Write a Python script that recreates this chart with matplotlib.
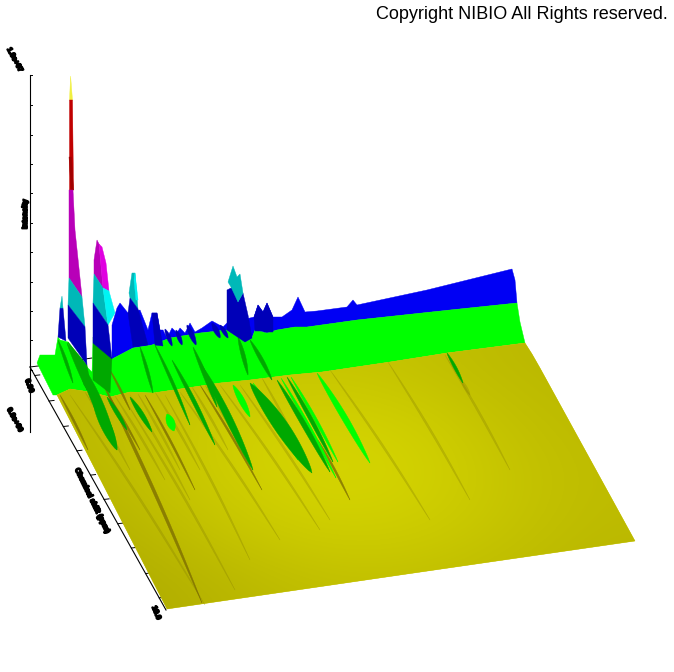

from __future__ import annotations

import matplotlib

matplotlib.use("Agg")
import matplotlib.patheffects as pe
import matplotlib.pyplot as plt
import numpy as np
from matplotlib.colors import LinearSegmentedColormap
from matplotlib.patches import Polygon

WIDTH, HEIGHT = 674, 672

BLUE = "#0000f4"
DARK_BLUE = "#0000b8"
GREEN = "#00ff00"
DARK_GREEN = "#00a800"
CYAN = "#00b8b8"
BRIGHT_CYAN = "#00f4f4"
MAGENTA = "#b800b8"
BRIGHT_MAGENTA = "#e000e0"
RED = "#c00000"
DARK_RED = "#a00000"
TIP_YELLOW = "#f0f040"
OLIVE = "#8a8400"
BROWN = "#7a6a00"

# outline of the surface levels
RIDGE_X = [112, 117, 120, 128, 140, 148, 152, 157, 160, 163, 167, 172, 177, 180, 185, 190, 195, 202, 212, 223,
           227, 250, 254, 258, 263, 267, 273, 282, 292, 298, 305, 317, 347, 353, 357, 427, 512, 515, 517]
RIDGE_Y = [325, 308, 303, 313, 310, 330, 313, 313, 330, 330, 338, 328, 333, 328, 333, 323, 332, 328, 321, 327,
           323, 318, 317, 305, 312, 303, 317, 317, 310, 297, 312, 311, 307, 300, 305, 290, 269, 280, 303]
BLUE_GREEN_X = [517, 450, 357, 307, 295, 277, 267, 255, 252, 245, 227, 200, 170, 152, 133, 112]
BLUE_GREEN_Y = [303, 310, 320, 327, 327, 330, 333, 330, 338, 342, 330, 333, 338, 345, 348, 359]
GREEN_LEFT_X = [53, 37, 40, 55, 58, 60, 68, 87, 92, 93]
GREEN_LEFT_Y = [395, 363, 355, 355, 337, 340, 342, 367, 372, 343]
GREEN_RIGHT_X = [520, 525]
GREEN_RIGHT_Y = [322, 343]
GREEN_YELLOW_X = [447, 390, 322, 290, 250, 220, 207, 180, 153, 130, 110, 90, 70, 57]
GREEN_YELLOW_Y = [353, 362, 372, 375, 380, 383, 385, 389, 393, 392, 397, 392, 389, 395]
YELLOW_X = [57, 70, 90, 110, 130, 153, 180, 207, 220, 250, 290, 322, 390, 447, 525, 532, 540, 635, 400, 167]
YELLOW_Y = [395, 389, 392, 397, 392, 393, 389, 385, 383, 380, 375, 372, 362, 353, 343, 354, 368, 541, 575, 609]

# brightness of the yellow floor, rows run top to bottom, columns left to right
FLOOR_LEVELS = [
    [186, 190, 196, 198, 194, 188, 186],
    [188, 198, 208, 210, 206, 194, 188],
    [184, 196, 208, 213, 210, 198, 190],
    [178, 188, 200, 206, 204, 196, 188],
    [172, 178, 186, 192, 192, 188, 184],
]

# level bands of the tall peaks: colour, x, y
PEAK_BANDS = [
    (DARK_GREEN, [68, 87, 92, 84, 77], [342, 365, 395, 385, 363]),
    (DARK_GREEN, [93, 112, 110, 93], [337, 358, 393, 380]),
    (DARK_BLUE, [58, 60, 63, 66], [337, 308, 308, 341]),
    (CYAN, [60, 62, 63], [308, 296, 308]),
    (TIP_YELLOW, [69.5, 70.6, 72.5], [100, 76, 100]),
    (RED, [69.5, 72.5, 73.5, 69.5], [100, 100, 190, 190]),
    (DARK_RED, [69, 71.5, 73.5, 71], [157, 157, 190, 190]),
    (MAGENTA, [69, 73, 75, 82, 69], [190, 190, 230, 297, 278]),
    (CYAN, [69, 82, 85, 68], [278, 297, 327, 305]),
    (DARK_BLUE, [68, 85, 87, 68], [305, 327, 365, 338]),
    (MAGENTA, [94, 97, 99, 103, 94], [260, 240, 244, 288, 274]),
    (BRIGHT_MAGENTA, [99, 102, 106, 109, 103], [244, 247, 263, 291, 288]),
    (CYAN, [94, 103, 108, 93], [274, 288, 325, 303]),
    (BRIGHT_CYAN, [103, 109, 115, 108], [288, 291, 313, 325]),
    (DARK_BLUE, [93, 108, 112, 93], [303, 325, 359, 343]),
    (CYAN, [129, 132, 135, 138, 130], [293, 273, 273, 309, 298]),
    (BRIGHT_CYAN, [134, 135, 138, 136], [280, 273, 300, 300]),
    (DARK_BLUE, [128, 130, 138, 148, 133], [313, 298, 309, 345, 347]),
    (DARK_BLUE, [152, 157, 160, 163, 155], [313, 313, 330, 346, 345]),
    (DARK_BLUE, [227, 233, 238, 243, 248, 252, 245, 227], [290, 287, 302, 293, 315, 338, 342, 330]),
    (CYAN, [228, 233, 237, 240, 243, 238, 231], [282, 266, 277, 274, 293, 302, 287]),
    (DARK_BLUE, [254, 258, 263, 265, 255], [317, 305, 312, 331, 331]),
    (DARK_BLUE, [263, 267, 273, 273, 264], [312, 303, 317, 332, 332]),
]

# narrow ridges running toward the viewer: x0, y0, x1, y1, width
DARK_GREEN_STREAKS = [
    (77, 358, 117, 450, 10),
    (58, 340, 73, 383, 3),
    (67, 343, 87, 390, 3),
    (93, 400, 117, 450, 10),
    (107, 397, 127, 430, 4),
    (130, 397, 152, 432, 5),
    (140, 347, 153, 393, 3),
    (155, 345, 190, 425, 3),
    (172, 360, 215, 445, 4),
    (193, 347, 217, 407, 4),
    (200, 363, 253, 470, 7),
    (238, 337, 248, 375, 4),
    (250, 340, 272, 380, 4),
    (250, 383, 312, 473, 14),
    (277, 380, 330, 472, 5),
    (287, 377, 333, 462, 4),
    (447, 353, 463, 383, 3),
]
BRIGHT_GREEN_STREAKS = [
    (233, 385, 250, 417, 6),
    (253, 383, 298, 460, 5),
    (281, 378, 336, 478, 3),
    (291, 377, 338, 462, 3),
    (317, 373, 370, 463, 6),
    (167, 414, 174, 431, 8),
]
BROWN_STREAKS = [
    (93, 363, 202, 603, 3),
    (60, 395, 88, 450, 2),
    (108, 395, 140, 450, 2),
    (145, 395, 195, 490, 2),
    (110, 370, 130, 410, 2),
    (200, 385, 262, 490, 2),
    (318, 440, 350, 500, 2),
]
FAINT_STREAKS = [
    (70, 395, 205, 605, 2),
    (125, 400, 235, 590, 2),
    (165, 395, 250, 560, 2),
    (180, 392, 280, 540, 2),
    (220, 385, 320, 530, 2),
    (240, 385, 330, 520, 2),
    (330, 370, 430, 520, 2),
    (388, 362, 470, 500, 2),
    (445, 355, 510, 470, 2),
    (461, 380, 470, 395, 3),
    (130, 395, 190, 500, 2),
    (85, 392, 130, 470, 2),
    (115, 396, 165, 480, 2),
    (138, 394, 180, 470, 2),
    (155, 392, 200, 470, 2),
    (192, 387, 228, 450, 2),
    (205, 385, 245, 455, 2),
    (262, 378, 300, 450, 2),
]
BLUE_NOTCHES = [
    (165, 329, 172, 346, 4),
    (176, 330, 182, 345, 4),
    (187, 325, 196, 345, 5),
    (212, 323, 220, 338, 5),
    (220, 325, 228, 338, 4),
]

Z_TICK_Y = [75, 105, 135, 164, 193, 223, 252, 282, 311, 340, 370]
Y_TICK_FRACTIONS = [0.035, 0.14, 0.245, 0.345, 0.445, 0.545, 0.645, 0.745, 0.85, 0.95]
AXIS_TEXTS = [
    ("1.0e+07", 14.5, 60, -62),
    ("Intensity", 25.5, 214, 90),
    ("0.0e+00", 14.5, 420, -62),
    ("0.00", 29, 386, -70),
    ("Chemical shift (ppm)", 92, 501, -64),
    ("10.0", 156, 613, -68),
]


def add_poly(ax, xs, ys, color, zorder, alpha=1.0) -> Polygon:
    patch = Polygon(np.column_stack([xs, ys]), closed=True, facecolor=color, edgecolor=color,
                    linewidth=0.3, alpha=alpha, zorder=zorder)
    ax.add_patch(patch)
    return patch


def add_streak(ax, streak, color, zorder, alpha=1.0) -> None:
    x0, y0, x1, y1, width = streak
    t = np.linspace(0.0, 1.0, 25)
    length = np.hypot(x1 - x0, y1 - y0)
    nx, ny = -(y1 - y0) / length, (x1 - x0) / length
    half = 0.5 * width * np.sin(np.pi * t) ** 0.7
    bend = -0.01 * length * np.sin(np.pi * t)
    cx = x0 + (x1 - x0) * t + nx * bend
    cy = y0 + (y1 - y0) * t + ny * bend
    xs = np.r_[cx + nx * half, (cx - nx * half)[::-1]]
    ys = np.r_[cy + ny * half, (cy - ny * half)[::-1]]
    add_poly(ax, xs, ys, color, zorder, alpha)


def draw_axes(ax) -> None:
    ax.plot([30, 30], [75, 432], color="black", lw=0.8, zorder=1)
    ax.plot([30, 38, 92], [367, 366, 358], color="black", lw=0.7, zorder=1)
    ax.plot([30, 166], [367, 610], color="black", lw=0.8, zorder=1)
    for y in Z_TICK_Y:
        ax.plot([30, 32], [y, y], color="black", lw=0.7, zorder=1)
    for frac in Y_TICK_FRACTIONS:
        x = 30 + 136 * frac
        y = 367 + 243 * frac
        ax.plot([x, x + 5], [y, y - 0.6], color="black", lw=0.7, zorder=1)
    for text, x, y, angle in AXIS_TEXTS:
        ax.text(x, y, text, fontsize=5.2, fontweight="bold", family="Liberation Sans", rotation=angle,
                rotation_mode="anchor", ha="center", va="center", color="black",
                path_effects=[pe.withStroke(linewidth=1.3, foreground="black")])


def main() -> None:
    fig = plt.figure(figsize=(WIDTH / 100, HEIGHT / 100), dpi=100, facecolor="white")
    ax = fig.add_axes([0, 0, 1, 1])
    ax.set_xlim(0, WIDTH)
    ax.set_ylim(HEIGHT, 0)
    ax.axis("off")

    draw_axes(ax)

    ridge_x = RIDGE_X + BLUE_GREEN_X
    ridge_y = RIDGE_Y + BLUE_GREEN_Y
    add_poly(ax, ridge_x, ridge_y, BLUE, 2)

    green_x = GREEN_LEFT_X + BLUE_GREEN_X[::-1] + GREEN_RIGHT_X + GREEN_YELLOW_X
    green_y = GREEN_LEFT_Y + BLUE_GREEN_Y[::-1] + GREEN_RIGHT_Y + GREEN_YELLOW_Y
    add_poly(ax, green_x, green_y, GREEN, 3)

    outline = add_poly(ax, YELLOW_X, YELLOW_Y, "#c8c400", 4)
    cmap = LinearSegmentedColormap.from_list("floor", ["#aca800", "#d6d600"])
    floor = ax.imshow(np.array(FLOOR_LEVELS, dtype=float), cmap=cmap, vmin=172, vmax=213, extent=(30, 640, 615, 340),
                      interpolation="bicubic", aspect="auto", zorder=4.5)
    floor.set_clip_path(outline)
    ax.set_xlim(0, WIDTH)
    ax.set_ylim(HEIGHT, 0)

    for streak in FAINT_STREAKS:
        add_streak(ax, streak, OLIVE, 5, alpha=0.3)
    for streak in BROWN_STREAKS:
        add_streak(ax, streak, BROWN, 5.5, alpha=0.75)
    for streak in BRIGHT_GREEN_STREAKS:
        add_streak(ax, streak, GREEN, 6)
    for streak in DARK_GREEN_STREAKS:
        add_streak(ax, streak, DARK_GREEN, 6.5)
    for streak in BLUE_NOTCHES:
        add_streak(ax, streak, DARK_BLUE, 6.8)

    for color, xs, ys in PEAK_BANDS:
        add_poly(ax, xs, ys, color, 7)

    ax.text(668, 19, "Copyright NIBIO All Rights reserved.", fontsize=13.0, family="Liberation Sans",
            ha="right", va="baseline", color="black")

    fig.savefig("out.png", dpi=100, facecolor="white")
    plt.close(fig)


if __name__ == "__main__":
    main()
